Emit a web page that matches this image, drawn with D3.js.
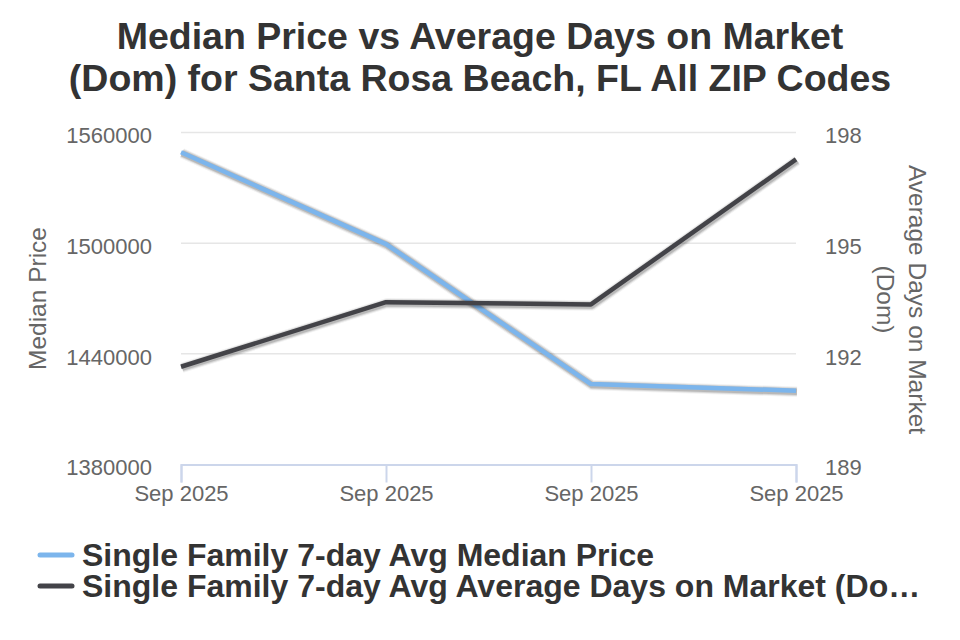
<!DOCTYPE html>
<html>
<head>
<meta charset="utf-8">
<script src="https://cdn.jsdelivr.net/npm/d3@7"></script>
<style>
  body { margin: 0; background: #fff; }
  text { font-family: "Liberation Sans", Arial, sans-serif; }
</style>
</head>
<body>
<div id="chart"></div>
<script>
var categories = ["Sep 2025", "Sep 2025", "Sep 2025", "Sep 2025"];
var medianPrice = [1549300, 1499500, 1423600, 1420000];
var daysOnMarket = [191.65, 193.4, 193.34, 197.27];
var priceTicks = [1380000, 1440000, 1500000, 1560000];
var domTicks = [189, 192, 195, 198];
var seriesNames = ["Single Family 7-day Avg Median Price", "Single Family 7-day Avg Average Days on Market (Do\u2026"];

var margins = { top: 132.5, right: 164, bottom: 175.5, left: 181 },
  width = 960 - margins.left - margins.right,
  height = 640 - margins.top - margins.bottom;

var svg = d3.select("#chart")
  .append("svg")
  .attr("width", 960)
  .attr("height", 640);

// title
var title = svg.append("text")
  .attr("x", 480)
  .attr("text-anchor", "middle")
  .style("font-size", "37.5px")
  .style("font-weight", "bold")
  .attr("fill", "#333333");
title.append("tspan").attr("x", 480).attr("y", 49).text("Median Price vs Average Days on Market");
title.append("tspan").attr("x", 480).attr("y", 91).text("(Dom) for Santa Rosa Beach, FL All ZIP Codes");

var g = svg.append("g").attr("transform", "translate(" + margins.left + "," + margins.top + ")");

var idx = categories.map(function (d, i) { return i; });
var x = d3.scalePoint().domain(idx).range([0, width]);
var yLeft = d3.scaleLinear().domain([1380000, 1560000]).range([height, 0]);
var yRight = d3.scaleLinear().domain([189, 198]).range([height, 0]);

// grid
g.selectAll(".grid").data(priceTicks.slice(1)).enter().append("line")
  .attr("x1", 0).attr("x2", width)
  .attr("y1", function (d) { return yLeft(d); })
  .attr("y2", function (d) { return yLeft(d); })
  .attr("stroke", "#e6e6e6").attr("stroke-width", 1.5);

// left axis labels
g.selectAll(".ly").data(priceTicks).enter().append("text")
  .attr("x", -29)
  .attr("y", function (d) { return yLeft(d) + 3; })
  .attr("dy", "0.35em")
  .attr("text-anchor", "end")
  .style("font-size", "22px")
  .attr("fill", "#666666")
  .text(function (d) { return d; });

// right axis labels
g.selectAll(".ry").data(domTicks).enter().append("text")
  .attr("x", width + 29)
  .attr("y", function (d) { return yRight(d) + 3; })
  .attr("dy", "0.35em")
  .attr("text-anchor", "start")
  .style("font-size", "22px")
  .attr("fill", "#666666")
  .text(function (d) { return d; });

// x axis
var xAxis = g.append("g")
  .attr("transform", "translate(0," + height + ")")
  .call(d3.axisBottom(x).tickSize(18).tickPadding(2).tickFormat(function (i) { return categories[i]; }));
xAxis.select(".domain").attr("stroke", "#ccd6eb").attr("stroke-width", 2);
xAxis.selectAll(".tick line").attr("stroke", "#ccd6eb").attr("stroke-width", 2);
xAxis.selectAll(".tick text")
  .style("font-size", "22px")
  .style("font-family", "'Liberation Sans', Arial, sans-serif")
  .attr("fill", "#666666")
  .attr("y", 21);

// axis titles
svg.append("text")
  .attr("transform", "translate(46," + (margins.top + height / 2) + ") rotate(-90)")
  .attr("text-anchor", "middle")
  .style("font-size", "24.5px")
  .attr("fill", "#666666")
  .text("Median Price");

var rt = svg.append("text")
  .attr("transform", "translate(909," + (margins.top + height / 2 + 1) + ") rotate(90)")
  .attr("text-anchor", "middle")
  .style("font-size", "24.5px")
  .attr("fill", "#666666");
rt.append("tspan").attr("x", 0).attr("y", 0).text("Average Days on Market");
rt.append("tspan").attr("x", 0).attr("y", 32).text("(Dom)");

// lines
var linePrice = d3.line().x(function (d, i) { return x(i); }).y(function (d) { return yLeft(d); });
var lineDom = d3.line().x(function (d, i) { return x(i); }).y(function (d) { return yRight(d); });

function drawSeries(path, data, color) {
  [3, 2, 1].forEach(function (k) {
    g.append("path").datum(data)
      .attr("transform", "translate(1,1)")
      .attr("fill", "none")
      .attr("stroke", "#000")
      .attr("stroke-opacity", 0.05 * (k === 1 ? 3 : k === 2 ? 2 : 1))
      .attr("stroke-width", 4.5 + 2 * k)
      .attr("stroke-linejoin", "round")
      .attr("d", path);
  });
  g.append("path").datum(data)
    .attr("fill", "none")
    .attr("stroke", color)
    .attr("stroke-width", 4.5)
    .attr("stroke-linejoin", "round")
    .attr("d", path);
}

drawSeries(linePrice, medianPrice, "#7cb5ec");
drawSeries(lineDom, daysOnMarket, "#434348");

// legend
var legendColors = ["#7cb5ec", "#434348"];
var legend = svg.append("g");
seriesNames.forEach(function (name, i) {
  var cy = 555 + i * 31;
  legend.append("line")
    .attr("x1", 40).attr("x2", 72)
    .attr("y1", cy).attr("y2", cy)
    .attr("stroke", legendColors[i])
    .attr("stroke-width", 5)
    .attr("stroke-linecap", "round");
  legend.append("text")
    .attr("x", 82)
    .attr("y", cy)
    .attr("dy", "0.35em")
    .style("font-size", "32px")
    .style("font-weight", "bold")
    .attr("fill", "#333333")
    .text(name);
});
</script>
</body>
</html>
